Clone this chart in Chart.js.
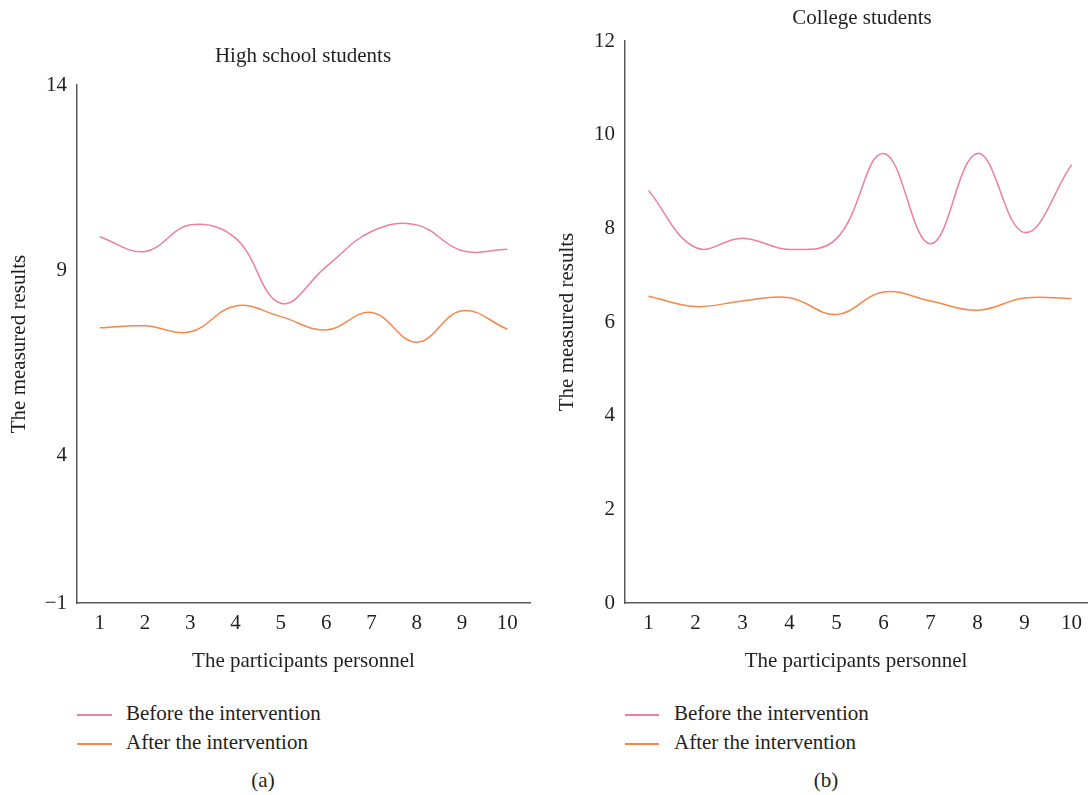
<!DOCTYPE html>
<html>
<head>
<meta charset="utf-8">
<script src="https://cdn.jsdelivr.net/npm/chart.js@4/dist/chart.umd.min.js"></script>
<style>
    body { margin: 0; background: #fff; width: 1090px; height: 795px; position: relative; overflow: hidden;
           font-family: "Liberation Serif", "DejaVu Serif", serif; color: #231f20; }
    .panel { position: absolute; top: 0; width: 545px; height: 680px; }
    .txt { position: absolute; font-size: 21px; line-height: 24px; white-space: nowrap; }
    .center { transform: translateX(-50%); }
    .swatch { position: absolute; height: 1.5px; }
</style>
</head>
<body>
<div class="panel" style="left:0"><canvas id="hsChart"></canvas></div>
<div class="panel" style="left:545px"><canvas id="colChart"></canvas></div>

<div class="txt center" style="left:303px; top:43px">High school students</div>
<div class="txt center" style="left:862px; top:5px">College students</div>

<div class="swatch" style="left:77px; width:35px; top:714px; background:#ee7f9b"></div>
<div class="txt" style="left:126px; top:701px">Before the intervention</div>
<div class="swatch" style="left:77px; width:35px; top:743px; background:#f5874a"></div>
<div class="txt" style="left:126px; top:730px">After the intervention</div>

<div class="swatch" style="left:625px; width:34px; top:714px; background:#ee7f9b"></div>
<div class="txt" style="left:674px; top:701px">Before the intervention</div>
<div class="swatch" style="left:625px; width:34px; top:743px; background:#f5874a"></div>
<div class="txt" style="left:674px; top:730px">After the intervention</div>

<div class="txt center" style="left:263px; top:768px">(a)</div>
<div class="txt center" style="left:826px; top:768px">(b)</div>

<script>
// participants on the x axis
const participants = [1, 2, 3, 4, 5, 6, 7, 8, 9, 10];

// (a) high school students
const hsBefore = [9.90, 9.50, 10.22, 9.86, 8.10, 9.09, 10.04, 10.22, 9.52, 9.56];
const hsAfter = [7.44, 7.49, 7.33, 8.03, 7.74, 7.38, 7.85, 7.05, 7.90, 7.40];
const hsTickValues = [0, 4, 9, 14];
const hsTickLabels = ['\u22121', '4', '9', '14'];

// (b) college students
const colBefore = [8.81, 7.59, 7.79, 7.55, 7.78, 9.60, 7.67, 9.60, 7.91, 9.36];
const colAfter = [6.55, 6.33, 6.45, 6.52, 6.16, 6.64, 6.45, 6.25, 6.51, 6.50];
const colTickValues = [0, 2, 4, 6, 8, 10, 12];

const PINK = '#ee7f9b';
const ORANGE = '#f5874a';
const AXIS = '#58595b';
const TEXT = '#231f20';
const FONT = { family: '"Liberation Serif", "DejaVu Serif", serif', size: 21 };

Chart.defaults.font.family = FONT.family;
Chart.defaults.color = TEXT;

function toPoints(values) {
    return participants.map((p, i) => ({ x: p, y: values[i] }));
}

function lineSet(label, values, color) {
    return {
        label: label,
        data: toPoints(values),
        borderColor: color,
        backgroundColor: color,
        borderWidth: 1.5,
        pointRadius: 0,
        tension: 0.4,
        fill: false
    };
}

function makeChart(id, before, after, opts) {
    return new Chart(document.getElementById(id), {
        type: 'line',
        data: {
            datasets: [
                lineSet('Before the intervention', before, PINK),
                lineSet('After the intervention', after, ORANGE)
            ]
        },
        options: {
            responsive: true,
            maintainAspectRatio: false,
            animation: false,
            layout: { padding: { top: opts.top, right: opts.right, left: 0, bottom: 0 } },
            plugins: { legend: { display: false }, tooltip: { enabled: false } },
            scales: {
                x: {
                    type: 'linear',
                    min: 0.5,
                    max: opts.xMax,
                    grid: { display: false, drawTicks: false },
                    border: { display: true, color: AXIS, width: 1.5 },
                    afterBuildTicks: (scale) => { scale.ticks = participants.map(v => ({ value: v })); },
                    ticks: { font: FONT, color: TEXT, padding: 8, maxRotation: 0, autoSkip: false },
                    afterFit: (scale) => { scale.height = 77; },
                    title: { display: true, text: 'The participants personnel', font: FONT, color: TEXT,
                             padding: { top: 0, bottom: 6 } }
                },
                y: {
                    min: opts.yMin,
                    max: opts.yMax,
                    grid: { display: false, drawTicks: false },
                    border: { display: true, color: AXIS, width: 1.5 },
                    afterBuildTicks: (scale) => { scale.ticks = opts.yTicks.map(v => ({ value: v })); },
                    ticks: { font: FONT, color: TEXT, padding: 10, callback: opts.yLabel },
                    afterFit: (scale) => { scale.width = opts.yWidth; },
                    title: { display: true, text: 'The measured results', font: FONT, color: TEXT,
                             padding: { top: opts.yTitlePad, bottom: 0 } }
                }
            }
        }
    });
}

makeChart('hsChart', hsBefore, hsAfter, {
    top: 85, right: 15, xMax: 10.5, yMin: 0, yMax: 14, yWidth: 77, yTitlePad: 7,
    yTicks: hsTickValues,
    yLabel: (value) => hsTickLabels[hsTickValues.indexOf(value)]
});

makeChart('colChart', colBefore, colAfter, {
    top: 41, right: 0, xMax: 10.33, yMin: 0, yMax: 12, yWidth: 80, yTitlePad: 10,
    yTicks: colTickValues,
    yLabel: (value) => value
});
</script>
</body>
</html>
